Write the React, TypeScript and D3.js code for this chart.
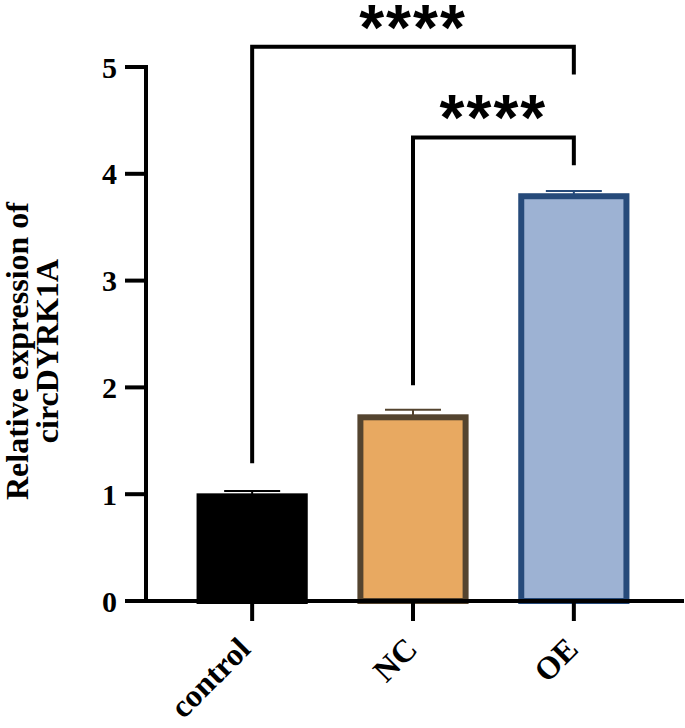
import * as d3 from 'd3';

// groups and measured values
const groups = ['control', 'NC', 'OE'];
const means = [0.98, 1.72, 3.79];
const errors = [0.05, 0.07, 0.05];
const fills = ['#000000', '#E8A961', '#9DB2D3'];
const strokes = ['#000000', '#54442F', '#264A7A'];
const yTicks = [0, 1, 2, 3, 4, 5];

// significance brackets: [from, to, top, leftEnd, rightEnd, label]
const brackets: [string, string, number, number, number, string][] = [
  ['control', 'OE', 5.19, 1.29, 4.93, '****'],
  ['NC', 'OE', 4.34, 2.02, 4.08, '****'],
];

const W = 685;
const H = 728;
const serif = '"Liberation Serif", "Times New Roman", serif';

export default function App() {
  const y = d3.scaleLinear().domain([0, 5]).range([601, 67]);
  const x = d3
    .scaleBand<string>()
    .domain(groups)
    .range([146, 680])
    .paddingInner(0.346)
    .paddingOuter(0.333);
  const bw = x.bandwidth();
  const cx = (g: string) => (x(g) ?? 0) + bw / 2;
  const x0 = 146;
  const y0 = y(0);

  return (
    <svg
      width={W}
      height={H}
      style={{ position: 'absolute', left: 0, top: 0, background: '#fff' }}
    >
      {/* error bars */}
      {groups.map((g, i) => {
        const c = cx(g);
        const top = y(means[i] + errors[i]);
        return (
          <g key={'e' + g} stroke={strokes[i]} strokeWidth={2}>
            <line x1={c} x2={c} y1={y(means[i])} y2={top} />
            <line x1={c - 28} x2={c + 28} y1={top} y2={top} />
          </g>
        );
      })}

      {/* bars */}
      {groups.map((g, i) => (
        <rect
          key={g}
          x={x(g)}
          y={y(means[i])}
          width={bw}
          height={y0 - y(means[i])}
          fill={fills[i]}
          stroke={strokes[i]}
          strokeWidth={6}
        />
      ))}

      {/* y axis */}
      <line x1={x0} x2={x0} y1={y(5) - 2} y2={y0 + 2} stroke="#000" strokeWidth={4} />
      {yTicks.map((t) => (
        <g key={t}>
          <line x1={x0 - 21} x2={x0} y1={y(t)} y2={y(t)} stroke="#000" strokeWidth={4} />
          <text
            x={x0 - 29}
            y={y(t)}
            dy="0.35em"
            textAnchor="end"
            fontFamily={serif}
            fontWeight="bold"
            fontSize={30}
          >
            {t}
          </text>
        </g>
      ))}

      {/* x axis */}
      <line x1={x0 - 21} x2={684} y1={y0} y2={y0} stroke="#000" strokeWidth={4} />
      {groups.map((g, i) => (
        <g key={'t' + g}>
          <line x1={cx(g)} x2={cx(g)} y1={y0} y2={y0 + 20} stroke="#000" strokeWidth={4} />
          <text
            transform={`translate(${cx(g) + (i === 0 ? 0 : 6)},${y0 + 50}) rotate(-45)`}
            textAnchor="end"
            fontFamily={serif}
            fontWeight="bold"
            fontSize={32}
          >
            {g}
          </text>
        </g>
      ))}

      {/* y label */}
      <text
        transform={`translate(28,351) rotate(-90)`}
        textAnchor="middle"
        fontFamily={serif}
        fontWeight="bold"
        fontSize={32}
      >
        <tspan x={0} dy={0}>Relative expression of</tspan>
        <tspan x={0} dy={30}>circDYRK1A</tspan>
      </text>

      {/* significance */}
      {brackets.map(([a, b, top, l, r, lab], i) => {
        const xa = cx(a);
        const xb = cx(b);
        return (
          <g key={'b' + i}>
            <path
              d={`M${xa},${y(l)}V${y(top)}H${xb}V${y(r)}`}
              fill="none"
              stroke="#000"
              strokeWidth={4}
            />
            <text
              x={(xa + xb) / 2}
              y={y(top) + 3}
              textAnchor="middle"
              fontFamily='"Liberation Sans", Arial, sans-serif'
              fontWeight="bold"
              fontSize={64}
              letterSpacing={2}
            >
              {lab}
            </text>
          </g>
        );
      })}
    </svg>
  );
}
